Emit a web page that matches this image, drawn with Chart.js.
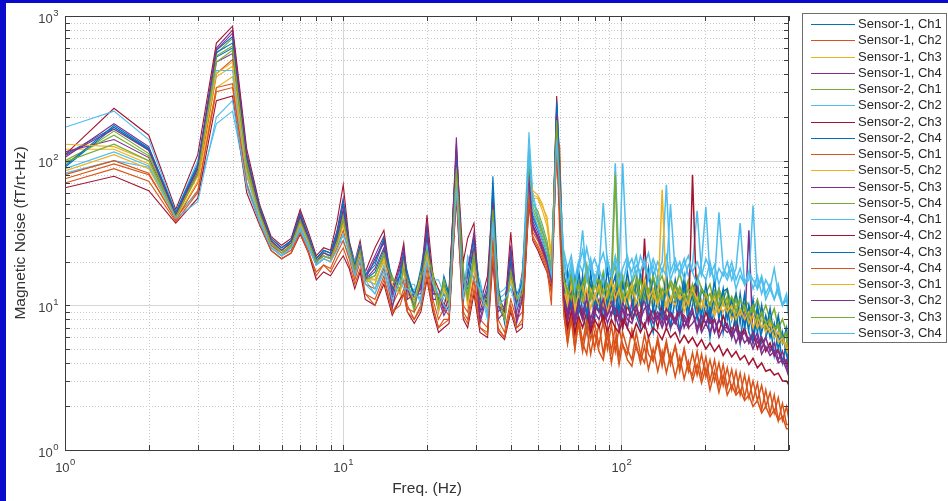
<!DOCTYPE html>
<html>
<head>
<meta charset="utf-8">
<script src="https://cdn.jsdelivr.net/npm/chart.js@4.4.1/dist/chart.umd.min.js"></script>
<style>
  html, body { margin: 0; padding: 0; background: #0a0acc; }
  #noiseChart { display: block; }
</style>
</head>
<body>
<canvas id="noiseChart" width="948" height="501"></canvas>
<script>
// frequency bins (Hz)
const freqs = [1,1.5,2,2.5,3,3.5,4,4.5,5,5.5,6,6.5,7,7.5,8,8.5,9,9.5,10,10.5,11,11.5,12,
  13,14,15,16,16.5,17,18,19,20,21, 22,23,24,25.5,27,28,29.5,31,33,34.5, 36,38,40,42,44,46.5,48,50,52,54, 56,58.5,
  60,62,64,66,68,70,72.5,75,77.5,80, 83,86,89,92,95,98,101,105,109,113, 117,121,125,130,135,140,145,150,156,162,
  168,174,180,187,194,201,208,216,224,232, 240,249,258,267,277,287,297,308,319,330, 342,354,366,379,392,400];

// magnetic noise, fT/rt-Hz (one value per frequency bin)
const s1ch1 = [110,170,118,42,88,520,600,95,46,28, 24,27,40,29,20,23,22,30,45,26, 18,25,15,
  17,24,12,15,19,13,10,14,28,14, 10,12,10,95,13,14,24,9,11,50, 10,8,17,9.5,11,80,36,30,24,19, 14,200,
  40,16,8,13,7.5,15,9,6.5,14,8, 15,7.5,12,16,8,13,7,12,15,8.5, 7,14,9,6.5,12,8,14,7,11,6.5, 12,7.5,10,14,7,11,6,10,13,6.5, 10,6,9,5.5,10,6.5,5.5,9,5.5,6, 7.5,4.5,6.5,4,5.5,3.8];
const s1ch2 = [75,95,80,40,62,300,320,70,38,25, 22,24,33,24,16,19,17,21,25,19, 14,18,12,
  11,16,9,11,13,10,8,10,18,10, 7,8,8,60,9,8,15,7,6.5,28, 7,6,10,7,8,55,30,26,22,18, 10,130,
  30,9,5.5,8.5,5,8,5.5,4.6,7.5,5, 7.5,4.6,7,4.8,7.2,4.4,6.5,5,4.2,6.5, 4.6,4,6,4.2,5.6,3.8,5.4,4,5.2,3.5, 5,3.6,3.3,4.8,3.2,4.4,3,4.2,2.8,3.9, 2.7,3.6,2.5,3.4,2.3,3.2,2.2,2.9,1.9,2.6, 1.8,2.4,1.6,2.1,1.5,1.5];
const s1ch3 = [120,120,95,41,78,380,450,80,40,27, 23,26,36,28,21,23,22,26,38,27, 19,23,16,
  15,20,14,13,21,11,12,17,22,15, 9.5,14,9,85,16,12,20,11,12,40, 12,9,18,11,13,90,55,55,45,35, 20,180,
  55,17,11,15,10,14,12,18,11,13, 16,10,14,12,85,13,11,15,10,13, 16,11,13,10,14,12,10,15,11,13, 10,14,11,9,13,11,12,8.5,12,10, 11,8.5,10,9,11,8,9.5,7.5,9,7, 8,6.5,7.5,5.5,6.5,5];
const s1ch4 = [105,180,125,43,90,600,800,110,48,29, 25,28,44,30,21,24,23,33,55,27, 19,26,16,
  22,30,11,18,23,12,11,13,35,12, 12,9,11,145,12,18,30,8,13,55, 9,10,22,8,12,85,38,32,26,22, 16,230,
  45,12,8,11,7.5,10,8.5,12,7,9.5, 11,7.5,10,8.5,12,8,9.5,7,10.5,8.5, 9,11,7.5,9.5,8,10,7,9,8,10, 7,8.5,9.5,6.5,8.5,7.5,9,6.5,8,7, 7.5,6,7,5.5,7,33,5.5,6.5,5,6, 4.8,5.5,4.2,4.8,3.8,3.4];
const s2ch1 = [95,160,112,40,82,550,700,100,44,27, 23,26,39,28,20,22,21,28,42,25, 17,24,15,
  14,22,16,12,18,14,9,16,26,17, 11,15,12,90,18,11,22,12,10,48, 13,8,16,12,10,120,45,38,30,24, 17,210,
  60,16,12,17,11,15,13,19,12,16, 13,17,11,15,19,12,16,11,14,17, 12,15,18,11,14,16,12,15,13,17, 12,15,11,16,13,12,14,10,13,11, 13,10,12,9,11,10,9,11,8.5,10, 8,9.5,7,8,6.5,5.5];
const s2ch2 = [82,100,90,42,60,180,220,70,40,26, 22,25,34,25,19,24,21,26,28,22, 17,23,15,
  12,18,10,16,14,12,13,11,24,13, 13,11,10,70,10,22,17,14,9,40, 11,12,14,10,15,158,60,42,34,26, 18,160,
  80,22,15,20,14,18,24,16,21,15, 19,23,17,16,96,18,14,20,17,22, 15,19,23,16,20,17,22,15,19,17, 21,16,19,45,17,15,20,14,18,16, 20,15,18,37,14,17,13,16,12,15, 13,11,14,10,12,9];
const s2ch3 = [110,230,150,46,110,650,850,120,50,30, 26,29,46,32,22,25,24,38,68,28, 20,28,17,
  25,33,13,20,27,15,12,15,42,16, 13,10,13,120,20,29,37,10,16,60, 12,9,32,10,17,75,35,30,25,21, 16,280,
  90,12,8,10.5,7.5,11,8,10,7,9, 10.5,7.5,9,11,8,9.5,7,10,8,9.5, 7.5,29,8,9.5,7,10,8,9,7.5,9.5, 8,7,80,8.5,7,9,7.5,8,6.5,8.5, 7,6.5,8,6,7,5.5,6.5,5,6,4.8, 5.5,4.5,5,4,4.2,3.6];
const s2ch4 = [90,170,120,43,92,560,650,105,47,28, 24,28,42,30,21,24,23,31,50,27, 19,25,16,
  19,28,15,14,22,17,11,18,32,14, 9,16,12,110,14,13,28,13,10,78, 14,7.5,20,12,14,95,40,34,28,22, 16,260,
  100,17,10,16,9,18,11,9,17,10, 16,9.5,18,11,8.5,16,10,17,11,9, 16,11,18,9,15,10,17,9,15,10, 16,9,13,15,8.5,14,9,15,8,12.5, 13,8,12,7.5,12,7,11,6.5,10,6.5, 9.5,6,8.5,5.5,7,4.5];
const s5ch1 = [80,100,82,39,70,400,500,85,42,26, 23,25,35,26,19,21,20,25,33,23, 16,22,14,
  13,18,10,13,15,9.5,9,11,20,11, 8,9.5,8.5,75,10,9,16,8,7,30, 8,6.5,11,8,9,60,32,28,23,19, 14,150,
  124,11,6.5,9,6,8.5,5.5,8,5.8,7.5, 5.3,7.8,5,7.3,4.8,7,5.3,4.6,6.8,5, 4.4,6.3,4.6,4.1,6,4.2,5.7,3.9,5.3,3.7, 5,3.5,4.7,3.3,4.6,3.2,4.2,3,4,2.8, 3.7,2.6,3.5,2.4,3.3,2.3,3,2.2,2.8,2, 2.5,1.8,2.3,1.6,2,1.6];
const s5ch2 = [85,110,88,40,72,320,380,78,41,27, 23,26,36,27,20,22,21,26,36,25, 18,23,15,
  14,21,13,14,17,12,10,15,23,14, 10,13,9.5,80,14,11,19,10,10,44, 11,8,16,10,12,65,58,56,48,41, 22,170,
  60,13,10,14,9,12,10.5,13,9.5,12, 10,13,9,12,14,9.5,12,10,13,9, 11,13,9.5,12,10,13,9,11.5,10,12, 9,11,12,8.5,11,9.5,10.5,8.5,10,9, 10,8,9,8.5,9.5,7.5,8.5,7,8,6.5, 7.5,6,6.5,5.5,5.5,4.5];
const s5ch3 = [115,140,105,41,84,480,550,90,44,27, 23,26,38,28,20,22,21,27,38,25, 18,24,15,
  18,25,9.5,17,21,11,12,12,30,11, 11,8.5,10,100,11,16,25,7.5,12,46, 8,9,18,7.5,11,70,34,29,24,20, 15,190,
  55,11,8,10,7.5,9.5,8,10.5,7,9, 8,10,7.5,9,8.5,7,9.5,8,7.5,9.5, 8,7,9,7.5,8.5,7,8.5,7,8,6.5, 8,7,7.5,8.5,6.5,7.5,6.5,8,6,7, 6.5,7,5.5,6.5,5.5,6,5,6,4.6,5.2, 4.5,4.8,4,4.2,3.6,3.2];
const s5ch4 = [100,150,108,41,86,530,620,95,45,28, 24,27,40,29,20,23,22,28,42,26, 18,25,15,
  16,23,15,13,20,14,9.5,17,25,16, 10,15,11,90,17,12,23,11,11,47, 12,8.5,17,11,12,110,50,45,36,28, 18,200,
  65,14,12,16,10.5,14,11,16,12,14, 12,16,11,14,80,12,15,11,14,12, 15,11,13,12,16,11,13,10.5,14,12, 13,11,14,10,13,11,12,10,12.5,10, 11.5,9,11,9,10,8.5,9.5,8,9,7, 8,7,7.5,6,6.5,5];
const s4ch1 = [170,220,140,44,100,420,420,80,40,25, 22,25,35,26,19,21,23,27,30,26, 20,26,17,
  13,19,12,17,15,14,14,10,26,15, 15,12,11,75,12,21,18,15,8.5,42, 12,13,15,11,16,130,55,40,32,25, 17,150,
  70,24,18,22,15,20,17,25,18,21, 17,51,19,16,22,17,96,18,21,16, 22,18,16,21,17,20,68,17,21,16, 19,22,17,20,16,21,18,15,44,18, 16,20,15,18,14,17,15,13,16,12, 14,11,13,10,11,10];
const s4ch2 = [65,78,62,37,55,260,280,60,36,24, 21,23,31,23,15,17,16,19,22,18, 13,17,11,
  10,14,8.5,11,12,9,7.5,9,15,9, 6.5,7,7.5,55,8,7,12,6.5,6,20, 6.5,5.8,9,6.5,7,50,28,24,20,17, 13,120,
  45,10,7,9,6.5,8.5,7,9,6.5,8, 7,8.5,6.5,8,7,6.5,8,7,6,7.5, 6.5,7.5,6,7,6.5,5.8,7,6,6.5,5.5, 6.2,5.5,6,5.2,5.8,5,5.5,4.8,5.3,4.5, 5,4.4,4.8,4.2,4.5,3.9,4.3,3.7,4,3.5, 3.6,3.3,3.4,3,3,2.8];
const s4ch3 = [92,175,122,44,95,580,720,110,48,29, 25,28,43,30,21,24,23,32,52,27, 19,26,16,
  20,29,13,16,24,16,12,16,33,13, 11,14,12,115,15,16,30,11,12,65, 13,8.5,24,10.5,15,100,42,35,28,22, 16,240,
  85,12,17,10,15,9,16,8.5,14,11, 9,15,10,13,16,9,14,10.5,8.5,15, 10,14,9,16,10,8.5,15,10,13,8.5, 14,9,12,8,13,11,8,12,9,13, 8,11,7,12,7,10,6,10,6.5,8.5, 6,7.5,5,6.5,4.5,4];
const s4ch4 = [70,88,72,38,60,320,340,68,37,24, 21,23,32,23,17,19,18,23,28,21, 15,20,12,
  10,15,9,10,12,9,8,9.5,16,9.5, 7,7.5,8,58,8.5,7.5,13,7,6.2,22, 6.8,6,9.5,7,7.5,52,29,25,21,17, 12,125,
  42,9,5.5,8,5,7.5,4.8,7,4.6,6.5, 4.8,4.2,6.3,4,5.9,3.9,5.4,4.2,3.8,5.4, 4,5.2,3.6,5,3.5,4.8,3.4,4.6,3.2,4.4, 3.1,4.1,3,3.9,2.9,3.7,2.6,3.5,2.5,3.3, 2.4,2.8,2.4,2.6,2.2,2.4,2,2.2,1.8,2, 1.7,1.9,1.6,1.7,1.4,1.4];
const s3ch1 = [130,125,100,41,80,400,480,85,42,27, 23,26,37,28,20,22,21,26,37,25, 18,23,15,
  15,20,14,12,19,13,11,16,21,16, 9,14,10,85,15,10,19,12,9.5,45, 12,8.5,15,11,13,75,62,58,50,38, 21,175,
  62,15,11,13,9.5,12,14,10,13,11, 14,10,12,15,11,13,10,12,14,10.5, 12,15,11,13,10,63,12,10.5,13,11, 12,10,13,11,9.5,12,10,11.5,9,10.5, 9,10,8,9.5,8,9,7,8.5,7,7.5, 6.5,7,5.5,6,5,4.5];
const s3ch2 = [108,165,118,42,88,580,760,105,46,28, 24,27,41,29,20,23,22,29,46,26, 18,25,15,
  21,27,12,19,25,13,10,14,38,12, 12,9.5,11,130,13,17,32,9,14,50, 10,9,26,9,13,78,36,30,25,20, 15,210,
  60,11,9,12,8,10.5,9,11,8,10, 9,11,8.5,10,9.5,8,10.5,8.5,9,10, 8,9.5,10,8,9,7.5,9.5,8.5,7.5,9, 8.5,7.5,9,7,8.5,7.5,8,6.5,8,7, 7,6,7,6,6.5,5.5,6.5,5.5,6,5, 5.2,4.6,4.8,4,4.2,3.5];
const s3ch3 = [98,130,100,41,80,480,580,90,43,27, 23,26,38,28,20,22,21,27,39,25, 18,24,15,
  16,22,15,14,18,15,10,15,24,16, 10.5,14,10.5,88,16,11,21,11.5,10,46, 12,8,17,11,12,100,48,40,32,26, 17,190,
  62,15,13,11,15,12,14,17,11,14, 15,12,14,11,13,16,11,14,12,15, 11,14,12,16,11,13,12,14,11,13.5, 11,13,12,10,13,11.5,10,12.5,10,11.5, 10,11.5,9,11,9.5,8.5,10,8,9,7.5, 8,7,7,6,6,5];
const s3ch4 = [88,115,92,40,52,200,260,65,38,25, 22,25,33,25,19,21,20,24,31,23, 16,21,14,
  12,17,11,15,13,13,12,11,20,14, 12,10,9,65,11,19,15,13,8,38, 10,11,13,9.5,14,110,45,35,28,22, 16,140,
  60,20,14,18,13,17,33,15,19,14, 18,14,21,16,20,14,18,22,15,19, 17,21,15,19,14,18,16,50,17,20, 15,19,17,14,20,48,16,19,14,17, 15,18,13,16,14,15,49,13,15,11, 13,18,12,10,11,8];

const seriesNames = ['Sensor-1, Ch1','Sensor-1, Ch2','Sensor-1, Ch3','Sensor-1, Ch4',
  'Sensor-2, Ch1','Sensor-2, Ch2','Sensor-2, Ch3','Sensor-2, Ch4',
  'Sensor-5, Ch1','Sensor-5, Ch2','Sensor-5, Ch3','Sensor-5, Ch4',
  'Sensor-4, Ch1','Sensor-4, Ch2','Sensor-4, Ch3','Sensor-4, Ch4',
  'Sensor-3, Ch1','Sensor-3, Ch2','Sensor-3, Ch3','Sensor-3, Ch4'];
const seriesValues = [s1ch1,s1ch2,s1ch3,s1ch4, s2ch1,s2ch2,s2ch3,s2ch4,
  s5ch1,s5ch2,s5ch3,s5ch4, s4ch1,s4ch2,s4ch3,s4ch4, s3ch1,s3ch2,s3ch3,s3ch4];
const lineColors = ['#0072BD','#D95319','#EDB120','#7E2F8E','#77AC30','#4DBEEE','#A2142F'];

const xDecades = [0, 1, 2];
const yDecades = [0, 1, 2, 3];
const xTitle = 'Freq. (Hz)';
const yTitle = 'Magnetic Noise (fT/rt-Hz)';

const FONT = '"Liberation Sans", Arial, Helvetica, sans-serif';

function drawPower(ctx, exp, x, y, align) {
    // "10" with a superscript exponent
    ctx.font = '13px ' + FONT;
    const wb = ctx.measureText('10').width;
    ctx.font = '9.5px ' + FONT;
    const ws = ctx.measureText(String(exp)).width;
    let left = align === 'right' ? x - wb - ws : x - (wb + ws) / 2;
    ctx.textAlign = 'left';
    ctx.textBaseline = 'middle';
    ctx.font = '13px ' + FONT;
    ctx.fillText('10', left, y);
    ctx.font = '9.5px ' + FONT;
    ctx.fillText(String(exp), left + wb + 0.5, y - 6);
}

const framePlugin = {
    id: 'frame',
    beforeDraw(chart) {
        const {ctx, chartArea: a, scales: {x, y}} = chart;
        ctx.save();
        ctx.fillStyle = '#ffffff';
        ctx.fillRect(0, 0, chart.width, chart.height);
        ctx.fillStyle = '#0a0acc';
        ctx.fillRect(0, 0, chart.width, 3);
        ctx.fillRect(0, 0, 6, chart.height);

        // minor grid, dotted
        ctx.strokeStyle = '#c8c8c8';
        ctx.lineWidth = 1;
        ctx.setLineDash([1, 2]);
        ctx.beginPath();
        xDecades.forEach(d => {
            for (let m = 2; m <= 9; m++) {
                const v = m * Math.pow(10, d);
                if (v >= x.max) continue;
                const px = Math.round(x.getPixelForValue(v)) + 0.5;
                ctx.moveTo(px, a.top); ctx.lineTo(px, a.bottom);
            }
        });
        yDecades.forEach(d => {
            for (let m = 2; m <= 9; m++) {
                const v = m * Math.pow(10, d);
                if (v >= y.max) continue;
                const py = Math.round(y.getPixelForValue(v)) + 0.5;
                ctx.moveTo(a.left, py); ctx.lineTo(a.right, py);
            }
        });
        ctx.stroke();

        // major grid, solid
        ctx.setLineDash([]);
        ctx.strokeStyle = '#d6d6d6';
        ctx.beginPath();
        xDecades.forEach(d => {
            const v = Math.pow(10, d);
            if (v <= x.min || v >= x.max) return;
            const px = Math.round(x.getPixelForValue(v)) + 0.5;
            ctx.moveTo(px, a.top); ctx.lineTo(px, a.bottom);
        });
        yDecades.forEach(d => {
            const v = Math.pow(10, d);
            if (v <= y.min || v >= y.max) return;
            const py = Math.round(y.getPixelForValue(v)) + 0.5;
            ctx.moveTo(a.left, py); ctx.lineTo(a.right, py);
        });
        ctx.stroke();
        ctx.restore();
    },
    afterDraw(chart) {
        const {ctx, chartArea: a, scales: {x, y}} = chart;
        ctx.save();
        // axes box
        ctx.strokeStyle = '#3c3c3c';
        ctx.lineWidth = 1;
        ctx.strokeRect(a.left + 0.5, a.top + 0.5, a.right - a.left - 1, a.bottom - a.top);

        // inward ticks on all four sides
        const tl = 5;
        ctx.beginPath();
        xDecades.forEach(d => {
            for (let m = 1; m <= 9; m++) {
                const v = m * Math.pow(10, d);
                if (v > x.max) continue;
                const px = Math.round(x.getPixelForValue(v)) + 0.5;
                ctx.moveTo(px, a.bottom); ctx.lineTo(px, a.bottom - tl);
                ctx.moveTo(px, a.top); ctx.lineTo(px, a.top + tl);
            }
        });
        yDecades.forEach(d => {
            for (let m = 1; m <= 9; m++) {
                const v = m * Math.pow(10, d);
                if (v > y.max) continue;
                const py = Math.round(y.getPixelForValue(v)) + 0.5;
                ctx.moveTo(a.left, py); ctx.lineTo(a.left + tl, py);
                ctx.moveTo(a.right, py); ctx.lineTo(a.right - tl, py);
            }
        });
        ctx.stroke();

        // tick labels
        ctx.fillStyle = '#404040';
        yDecades.forEach(d => {
            drawPower(ctx, d, a.left - 7, y.getPixelForValue(Math.pow(10, d)) + 3, 'right');
        });
        xDecades.forEach(d => {
            drawPower(ctx, d, x.getPixelForValue(Math.pow(10, d)), a.bottom + 18, 'center');
        });

        // axis titles
        ctx.fillStyle = '#333333';
        ctx.font = '15.5px ' + FONT;
        ctx.textAlign = 'center';
        ctx.textBaseline = 'middle';
        ctx.fillText(xTitle, (a.left + a.right) / 2, 489);
        ctx.save();
        ctx.translate(21, (a.top + a.bottom) / 2);
        ctx.rotate(-Math.PI / 2);
        ctx.fillText(yTitle, 0, 0);
        ctx.restore();

        // legend
        const lx = 802, ly = 13, lw = 144, lh = 329;
        ctx.fillStyle = '#ffffff';
        ctx.fillRect(lx, ly, lw, lh);
        ctx.strokeStyle = '#6e6e6e';
        ctx.strokeRect(lx + 0.5, ly + 0.5, lw, lh);
        ctx.font = '13px ' + FONT;
        ctx.textAlign = 'left';
        ctx.textBaseline = 'middle';
        chart.data.datasets.forEach((ds, i) => {
            const cy = Math.round(24 + i * 16.25) + 0.5;
            ctx.strokeStyle = ds.borderColor;
            ctx.lineWidth = 1.2;
            ctx.beginPath();
            ctx.moveTo(811, cy); ctx.lineTo(855, cy);
            ctx.stroke();
            ctx.fillStyle = '#262626';
            ctx.fillText(ds.label, 858, cy);
        });
        ctx.restore();
    }
};

const datasets = seriesNames.map((name, i) => ({
    label: name,
    data: freqs.map((f, k) => ({x: f, y: seriesValues[i][k]})),
    borderColor: lineColors[i % lineColors.length],
    backgroundColor: lineColors[i % lineColors.length],
    borderWidth: 1.1,
    // the densely sampled high-frequency part reads as a thicker band
    segment: { borderWidth: c => (c.p0.parsed.x >= 62 ? 1.5 : 1.1) },
    pointRadius: 0,
    fill: false,
    tension: 0,
    order: seriesNames.length - i
}));

new Chart(document.getElementById('noiseChart').getContext('2d'), {
    type: 'line',
    data: { datasets: datasets },
    plugins: [framePlugin],
    options: {
        responsive: false,
        animation: false,
        events: [],
        layout: { padding: { left: 65, right: 159, top: 16, bottom: 51 } },
        plugins: {
            legend: { display: false },
            tooltip: { enabled: false }
        },
        scales: {
            x: { type: 'logarithmic', min: 1, max: 400, display: false },
            y: { type: 'logarithmic', min: 1, max: 1000, display: false }
        }
    }
});
</script>
</body>
</html>
